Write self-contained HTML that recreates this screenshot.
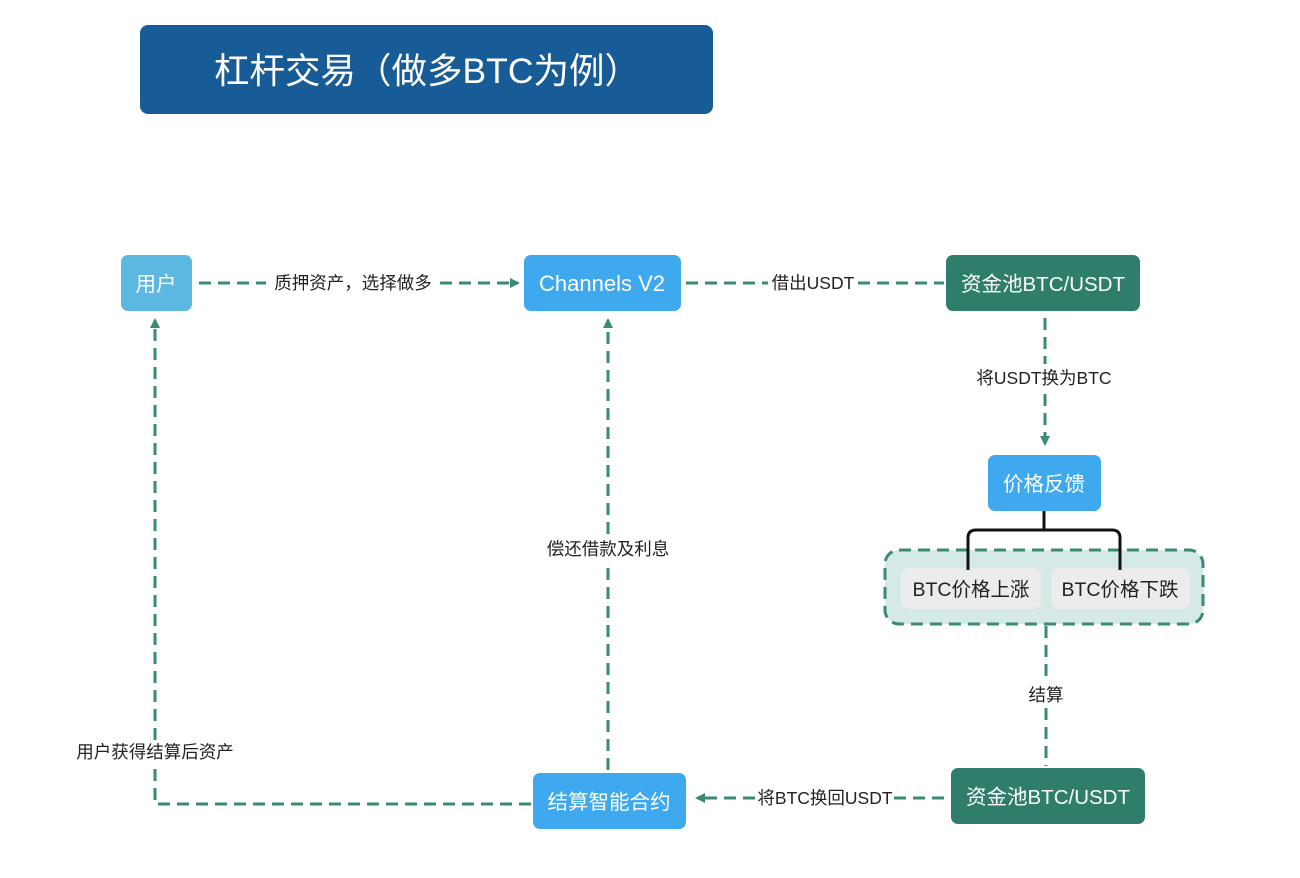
<!DOCTYPE html>
<html><head><meta charset="utf-8"><style>
html,body{margin:0;padding:0;background:#fff;}
svg{display:block;}
text{font-family:"Liberation Sans","Noto Sans CJK SC",sans-serif;}
</style></head><body>
<svg width="1300" height="878" viewBox="0 0 1300 878" xmlns="http://www.w3.org/2000/svg">
<defs>
<marker id="ar" markerWidth="10" markerHeight="10" refX="8" refY="5" orient="auto" markerUnits="userSpaceOnUse">
<path d="M0,0 L10,5 L0,10 z" fill="#3b8a76"/></marker>
</defs>
<rect width="1300" height="878" fill="#fff"/>
<rect x="140" y="25" width="573" height="89" rx="8" fill="#175b97"/>
<text x="427" y="83" font-size="35.5" fill="#fff" text-anchor="middle">杠杆交易（做多BTC为例）</text>

<g stroke="#3b8a76" stroke-width="3" fill="none" stroke-dasharray="12,7">
<line x1="199" y1="283" x2="266" y2="283"/>
<line x1="440" y1="283" x2="518" y2="283" marker-end="url(#ar)"/>
<line x1="686" y1="283" x2="768" y2="283"/>
<line x1="858" y1="283" x2="944" y2="283"/>
<line x1="1045" y1="318" x2="1045" y2="364"/>
<line x1="1045" y1="394" x2="1045" y2="444" marker-end="url(#ar)"/>
<line x1="1046" y1="626" x2="1046" y2="682"/>
<line x1="1046" y1="708" x2="1046" y2="766"/>
<line x1="944" y1="798" x2="894" y2="798"/>
<line x1="755" y1="798" x2="697" y2="798" marker-end="url(#ar)"/>
<line x1="608" y1="770" x2="608" y2="566"/>
<line x1="608" y1="534" x2="608" y2="320" marker-end="url(#ar)"/>
<polyline points="531,804 155,804 155,766"/>
<line x1="155" y1="740" x2="155" y2="320" marker-end="url(#ar)"/>
</g>

<rect x="885" y="550" width="318" height="74" rx="14" fill="#d5eae7" stroke="#3b8a76" stroke-width="3" stroke-dasharray="12,7"/>
<rect x="901" y="568" width="140" height="41" rx="8" fill="#ececec"/>
<rect x="1051" y="568" width="139" height="41" rx="8" fill="#ececec"/>
<path d="M1044,511 V530 M968,570 V538 Q968,530 976,530 H1112 Q1120,530 1120,538 V570" stroke="#111" stroke-width="3" fill="none"/>

<rect x="121" y="255" width="71" height="56" rx="7" fill="#5bb8e0"/>
<rect x="524" y="255" width="157" height="56" rx="7" fill="#3ea9ee"/>
<rect x="946" y="255" width="194" height="56" rx="7" fill="#2f7e6c"/>
<rect x="988" y="455" width="113" height="56" rx="7" fill="#3ea9ee"/>
<rect x="951" y="768" width="194" height="56" rx="7" fill="#2f7e6c"/>
<rect x="533" y="773" width="153" height="56" rx="7" fill="#3ea9ee"/>

<g font-size="20.5" fill="#fff" text-anchor="middle">
<text x="156" y="291">用户</text>
<text x="602" y="291" font-size="22">Channels V2</text>
<text x="1043" y="291">资金池BTC/USDT</text>
<text x="1044" y="491">价格反馈</text>
<text x="1048" y="804">资金池BTC/USDT</text>
<text x="609" y="809">结算智能合约</text>
</g>
<g font-size="19.5" fill="#222" text-anchor="middle">
<text x="971" y="596">BTC价格上涨</text>
<text x="1120" y="596">BTC价格下跌</text>
</g>
<g font-size="17.5" fill="#222" text-anchor="middle">
<text x="353" y="289">质押资产，选择做多</text>
<text x="813" y="289">借出USDT</text>
<text x="1044" y="384">将USDT换为BTC</text>
<text x="1046" y="701">结算</text>
<text x="825" y="804">将BTC换回USDT</text>
<text x="608" y="555">偿还借款及利息</text>
<text x="155" y="758">用户获得结算后资产</text>
</g>
</svg>
</body></html>
